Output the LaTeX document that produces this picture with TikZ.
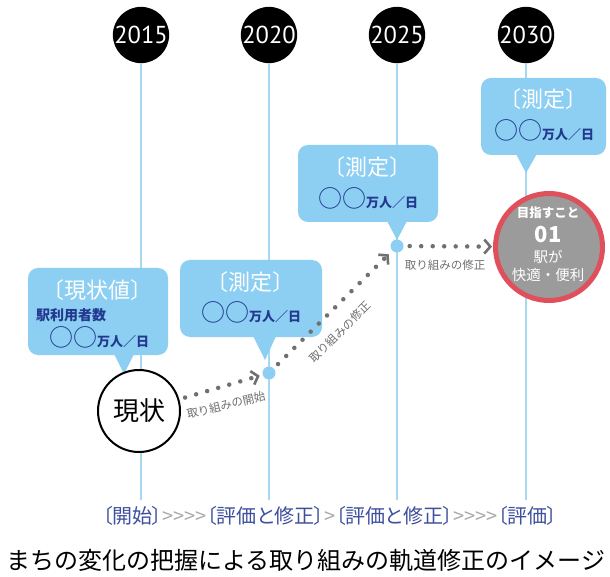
\documentclass[tikz,border=0pt]{standalone}
\usepackage{fontspec}
\setmainfont{Noto Sans CJK JP}
\newfontfamily\jpp[RawFeature=+palt]{Noto Sans CJK JP}
\newfontfamily\yearfont{PT Sans}
\usetikzlibrary{arrows.meta}
\definecolor{boxblue}{HTML}{8DCFF2}
\definecolor{vlinec}{HTML}{A6D8F2}
\definecolor{navy}{HTML}{22398F}
\definecolor{botblue}{HTML}{3E4F9E}
\definecolor{chevgray}{HTML}{A8A8A8}
\definecolor{arrgray}{HTML}{707070}
\definecolor{goalgray}{HTML}{9B9B9B}
\definecolor{goalred}{HTML}{E0505C}
\newcommand{\fs}[1]{\fontsize{#1}{#1}\selectfont}
\newcommand{\valtext}{{\fs{24}○○}{\bfseries\fs{13}万人／日}}
\tikzset{
  yearc/.style={circle, fill=black, minimum size=55pt, inner sep=0pt, text=white, font=\yearfont\fs{24.5}},
  vline/.style={draw=vlinec, line width=1.2pt},
  callout/.style={fill=boxblue, rounded corners=10pt, inner sep=0pt},
  hdr/.style={text=white, font=\fs{22}, inner sep=0pt},
  val/.style={text=navy, inner sep=0pt},
  dotc/.style={circle, fill=boxblue, minimum size=13pt, inner sep=0pt},
  nowc/.style={circle, draw=black, line width=2pt, fill=white, minimum size=82pt, inner sep=0pt, font=\fs{26}},
  goalc/.style={circle, draw=goalred, line width=5pt, fill=goalgray, minimum size=107pt, inner sep=0pt},
  goaltxt/.style={text=white, inner sep=0pt},
  dotarr/.style={draw=arrgray, line width=4.5pt, line cap=round, dash pattern=on 0pt off 11.5pt,
    -{Straight Barb[length=6pt, width=14pt, line width=2.6pt]}},
  albl/.style={text=arrgray, font=\fs{11.5}, inner sep=0pt}
}
\begin{document}
\begin{tikzpicture}[x=1pt,y=1pt]
\useasboundingbox (0,0) rectangle (610,-577);
\fill[white] (0,0) rectangle (610,-577);

% year markers
\node[yearc] (y15) at (141,-35) {2015};
\node[yearc] (y20) at (269,-35) {2020};
\node[yearc] (y25) at (397,-35) {2025};
\node[yearc] (y30) at (526,-35) {2030};
\coordinate (e15) at (141,-500);
\coordinate (e20) at (269,-500);
\coordinate (e25) at (397,-500);
\coordinate (e30) at (526,-500);
\draw[vline] (y15.south) -- (e15);
\draw[vline] (y20.south) -- (e20);
\draw[vline] (y25.south) -- (e25);
\draw[vline] (y30.south) -- (e30);

% callout boxes
\node[callout, minimum width=140pt, minimum height=87pt] (b1) at (98,-311.5) {};
\fill[boxblue] (112,-350) -- (136,-350) -- (124,-374) -- cycle;
\node[hdr] (h1) at (97,-290) {〔現状値〕};
\node[val, anchor=west, font=\bfseries\fs{14}] (s1) at (36,-315) {駅利用者数};
\node[val] (v1) at (99,-337) {\valtext};

\node[callout, minimum width=142pt, minimum height=77pt] (b2) at (251,-298.5) {};
\fill[boxblue] (252,-334) -- (277,-334) -- (265,-360) -- cycle;
\node[hdr] (h2) at (250,-282) {〔測定〕};
\node[val] (v2) at (251,-312) {\valtext};

\node[callout, minimum width=140pt, minimum height=77pt] (b3) at (368,-183.5) {};
\fill[boxblue] (386,-219) -- (408,-219) -- (397,-240) -- cycle;
\node[hdr] (h3) at (367,-167) {〔測定〕};
\node[val] (v3) at (368,-198) {\valtext};

\node[callout, minimum width=125pt, minimum height=77pt] (b4) at (543.5,-116.5) {};
\fill[boxblue] (515,-152) -- (538,-152) -- (526,-173) -- cycle;
\node[hdr] (h4) at (543,-99) {〔測定〕};
\node[val] (v4) at (544,-130) {\valtext};

% current state, milestones and goal
\node[nowc] (now) at (139,-411) {現状};
\node[dotc] (d20) at (269,-373) {};
\node[dotc] (d25) at (397,-246) {};
\node[goalc] (goal) at (549,-247) {};
\node[goaltxt, font=\bfseries\fs{12.5}] (g1) at (548,-213) {目指すこと};
\node[goaltxt, font=\bfseries\fs{22}] (g2) at (548,-235) {01};
\node[goaltxt, font=\fs{14.5}] (g3) at (548,-257) {駅が};
\node[goaltxt, font=\fs{14.5}] (g4) at (548,-275) {快適・便利};

% dotted arrows
\draw[dotarr, shorten <=6pt, shorten >=3pt] (now) -- (d20);
\draw[dotarr, shorten <=6pt, shorten >=5pt] (d20) -- (d25);
\draw[dotarr, shorten <=6pt, shorten >=1pt] (d25) -- (goal);
\node[albl, rotate=14] (l1) at (226,-405) {取り組みの開始};
\node[albl, rotate=45] (l2) at (340,-332) {取り組みの修正};
\node[albl] (l3) at (445,-265) {取り組みの修正};

% bottom phases
\node[inner sep=0pt, text=botblue, font=\jpp\fs{20}] (phases) at (330,-516)
  {〔開始〕\textcolor{chevgray}{>>>>}〔評価と修正〕\textcolor{chevgray}{>}〔評価と修正〕\textcolor{chevgray}{>>>>}〔評価〕};

% caption
\node[inner sep=0pt, anchor=west, font=\fs{24}] (cap) at (6,-560) {まちの変化の把握による取り組みの軌道修正のイメージ};
\end{tikzpicture}
\end{document}
